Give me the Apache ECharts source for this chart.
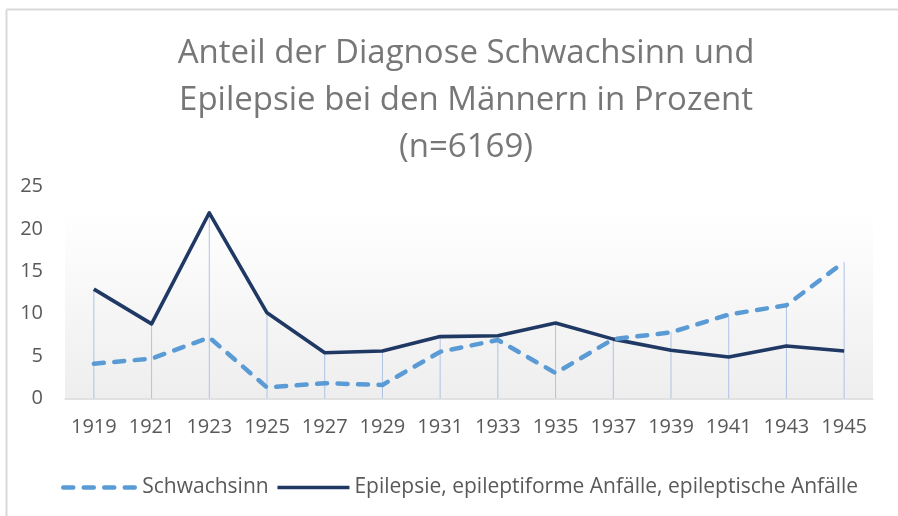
<!DOCTYPE html>
<html>
<head>
<meta charset="utf-8">
<script src="https://cdn.jsdelivr.net/npm/echarts@6/dist/echarts.min.js"></script>
<style>
html,body{margin:0;padding:0;background:#fff;}
#chart{width:898px;height:516px;}
</style>
</head>
<body>
<div id="chart"></div>
<script>
const years = ['1919','1921','1923','1925','1927','1929','1931','1933','1935','1937','1939','1941','1943','1945'];
const schwachsinn = [4.1, 4.7, 7.2, 1.3, 1.8, 1.6, 5.5, 6.9, 3.0, 7.0, 7.8, 9.9, 11.0, 16.1];
const epilepsie = [12.9, 8.8, 21.9, 10.1, 5.4, 5.6, 7.3, 7.4, 8.9, 7.0, 5.7, 4.9, 6.2, 5.6];
const seriesNames = ['Schwachsinn', 'Epilepsie, epileptiforme Anfälle, epileptische Anfälle'];
const titleText = 'Anteil der Diagnose Schwachsinn und\nEpilepsie bei den Männern in Prozent\n(n=6169)';

const dropLines = years.map((_, i) => Math.max(schwachsinn[i], epilepsie[i]));
const FONT = '"Open Sans", "Noto Sans", sans-serif';
const dashStyle = { color: '#5b9bd5', width: 4.5, type: [10, 10.5], cap: 'round', join: 'round' };
const solidStyle = { color: '#1f3864', width: 3.6, join: 'round' };

const chart = echarts.init(document.getElementById('chart'));
chart.setOption({
  animation: false,
  backgroundColor: '#ffffff',
  textStyle: { fontFamily: FONT },
  title: {
    text: titleText,
    left: 466,
    top: 30,
    padding: 0,
    textAlign: 'center',
    textStyle: { fontFamily: FONT, fontSize: 33, fontWeight: 'normal', color: '#777777', lineHeight: 47 }
  },
  graphic: [
    { type: 'line', shape: { x1: 6.5, y1: 9.5, x2: 898, y2: 9.5 }, style: { stroke: '#d9d9d9', lineWidth: 2 }, silent: true },
    { type: 'line', shape: { x1: 6.5, y1: 9.5, x2: 6.5, y2: 516 }, style: { stroke: '#d9d9d9', lineWidth: 2 }, silent: true }
  ],
  legend: {
    left: 61,
    top: 477,
    itemWidth: 72,
    itemHeight: 10,
    itemGap: 7,
    padding: 0,
    data: [
      { name: seriesNames[0], textStyle: { padding: [0, 0, 0, 2] }, itemStyle: { opacity: 0 }, lineStyle: dashStyle },
      { name: seriesNames[1], itemStyle: { opacity: 0 }, lineStyle: solidStyle }
    ],
    textStyle: { fontFamily: FONT, fontSize: 21, color: '#595959' }
  },
  grid: {
    left: 65,
    right: 25,
    top: 186.5,
    bottom: 117.5,
    show: true,
    borderWidth: 0,
    backgroundColor: new echarts.graphic.LinearGradient(0, 0, 0, 1, [
      { offset: 0, color: '#ffffff' },
      { offset: 0.12, color: '#ffffff' },
      { offset: 1, color: '#eeeeee' }
    ])
  },
  xAxis: {
    type: 'category',
    data: years,
    boundaryGap: true,
    axisLine: { lineStyle: { color: '#d9d9d9', width: 1.5 } },
    axisTick: { show: false },
    axisLabel: { fontFamily: FONT, fontSize: 20, color: '#595959', margin: 19, interval: 0 },
    splitLine: { show: false }
  },
  yAxis: {
    type: 'value',
    min: 0,
    max: 25,
    interval: 5,
    axisLine: { show: false },
    axisTick: { show: false },
    splitLine: { show: false },
    axisLabel: { fontFamily: FONT, fontSize: 20, color: '#595959', margin: 22 }
  },
  series: [
    {
      name: 'drop',
      type: 'bar',
      data: dropLines,
      barWidth: 1,
      silent: true,
      z: 1,
      itemStyle: { color: '#aec3e6' }
    },
    {
      name: seriesNames[0],
      type: 'line',
      data: schwachsinn,
      symbol: 'none',
      z: 3,
      lineStyle: dashStyle,
      itemStyle: { color: '#5b9bd5' }
    },
    {
      name: seriesNames[1],
      type: 'line',
      data: epilepsie,
      symbol: 'none',
      z: 2,
      lineStyle: solidStyle,
      itemStyle: { color: '#1f3864' }
    }
  ]
});
</script>
</body>
</html>
